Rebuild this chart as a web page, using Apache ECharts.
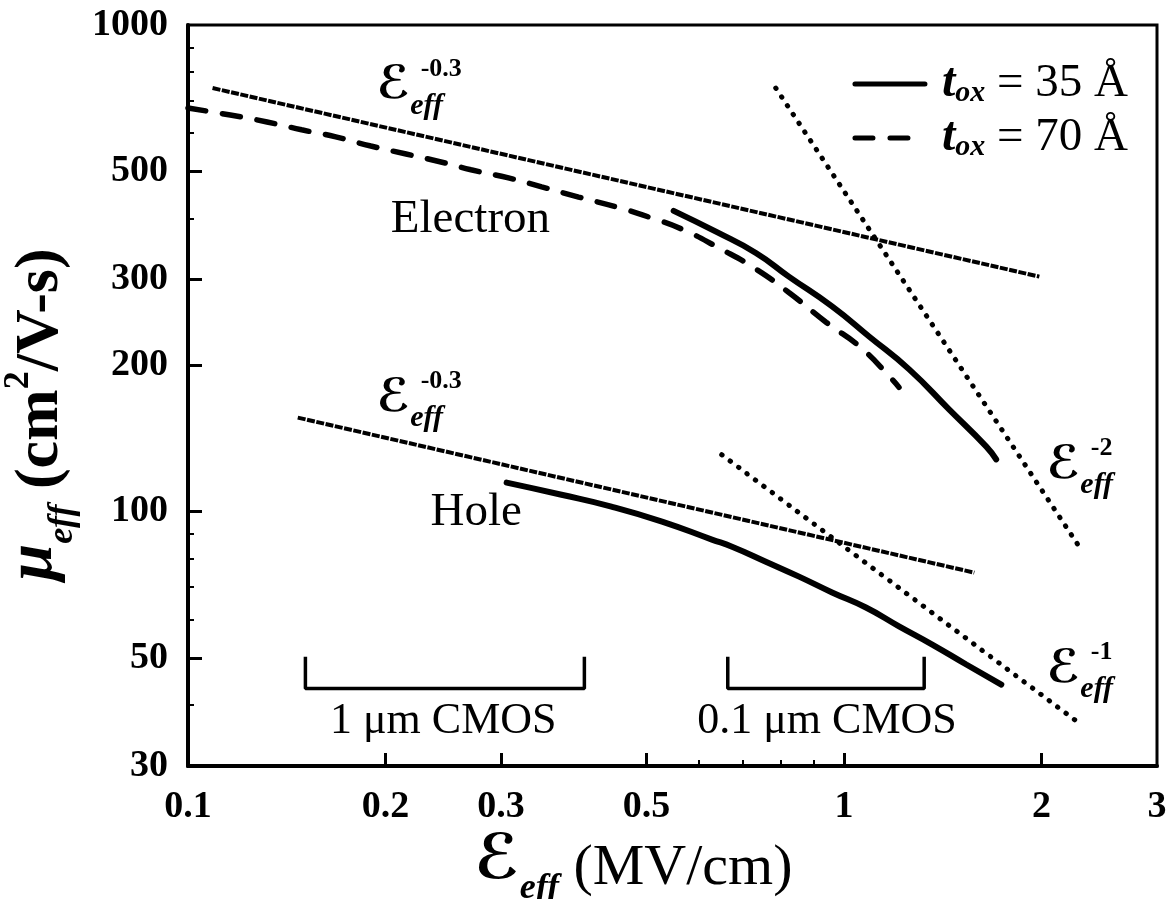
<!DOCTYPE html>
<html>
<head>
<meta charset="utf-8">
<script src="https://cdn.jsdelivr.net/npm/echarts@6/dist/echarts.min.js"></script>
<style>
html,body{margin:0;padding:0;background:#fff;}
#c{width:1167px;height:899px;}
</style>
</head>
<body>
<div id="c"></div>
<script>
// ---------- data ----------
const xTickValues = [0.1, 0.2, 0.3, 0.5, 1, 2, 3];
const xTickLabels = ['0.1', '0.2', '0.3', '0.5', '1', '2', '3'];
const xMajorTicks = [0.2, 0.3, 0.5, 1, 2];
const xMinorTicks = [0.6, 0.7, 0.8, 0.9];
const yTickValues = [30, 50, 100, 200, 300, 500, 1000];
const yTickLabels = ['30', '50', '100', '200', '300', '500', '1000'];
const yMajorTicks = [50, 100, 200, 300, 500];
const yMinorTicks = [40, 60, 70, 80, 90, 400, 600, 700, 800, 900];

// electron, tox = 35 A (solid)
const elec35X = [0.550, 0.638, 0.734, 0.824, 0.959, 1.092, 1.257, 1.447, 1.648, 1.706];
const elec35Y = [415, 376, 340, 304, 264, 229, 196, 162, 136, 128];
// electron, tox = 70 A (dashed)
const elec70X = [0.100, 0.116, 0.132, 0.149, 0.168, 0.190, 0.215, 0.243, 0.270, 0.308, 0.346, 0.394, 0.449, 0.504, 0.570, 0.645, 0.729, 0.824, 0.939, 1.062, 1.184, 1.213];
const elec70Y = [675, 653, 632, 609, 589, 564, 543, 523, 504, 485, 465, 443, 423, 403, 379, 348, 317, 282, 245, 217, 187, 180];
// hole, tox = 35 A (solid)
const hole35X = [0.306, 0.371, 0.442, 0.528, 0.629, 0.675, 0.760, 0.854, 0.959, 1.080, 1.213, 1.363, 1.536, 1.737];
const hole35Y = [114.7, 108.3, 102.4, 95.4, 87.6, 84.7, 78.9, 73.5, 68.2, 63.5, 58.1, 53.3, 48.5, 44.1];

// power-law guide lines
const elecFit03X = [0.109, 1.985];
const elecFit03Y = [742, 304];
const elecFit2X = [0.787, 2.309];
const elecFit2Y = [742, 82.8];
const holeFit03X = [0.147, 1.580];
const holeFit03Y = [156, 74.9];
const holeFit1X = [0.651, 2.261];
const holeFit1Y = [130.9, 37.1];

// CMOS range brackets
const cmos1X = [0.151, 0.151, 0.402, 0.402];
const cmos1Y = [50.3, 43.3, 43.3, 50.3];
const cmos01X = [0.665, 0.665, 1.325, 1.325];
const cmos01Y = [50.3, 43.3, 43.3, 50.3];

// text annotations
const noteTexts = ['Electron', 'Hole', '1 μm CMOS', '0.1 μm CMOS'];
const noteX = [0.2695, 0.275, 0.245, 0.942];
const noteY = [398, 99.5, 37.1, 37.1];
const slopeExps = ['-0.3', '-0.3', '-2', '-1'];
const slopeX = [0.1936, 0.1936, 2.034, 2.034];
const slopeY = [728.6, 165.8, 120.8, 46.0];

const legendNames = ['tox35', 'tox70'];
const legendLabels = ['35 Å', '70 Å'];

// ---------- chart ----------
const SERIF = '"Liberation Serif", "Times New Roman", "DejaVu Serif", serif';
const SCRIPT = '"DejaVu Sans", "DejaVu Serif", sans-serif';
const zip = (xs, ys) => xs.map((x, i) => [x, ys[i]]);
const labelOf = (vals, labels) => v => {
  const i = vals.findIndex(t => Math.abs(t - v) < 1e-9);
  return i >= 0 ? labels[i] : String(v);
};

const lineBase = (name, xs, ys, style, extra) => Object.assign({
  name, type: 'line', data: zip(xs, ys), symbol: 'none', silent: true,
  lineStyle: Object.assign({ color: '#000' }, style), itemStyle: { color: '#000' },
  z: 3
}, extra || {});

const slopeRich = {
  e: { fontFamily: SCRIPT, fontStyle: 'italic', fontWeight: 'bold', fontSize: 46, color: '#000', opacity: 1, lineHeight: 50, verticalAlign: 'top' },
  sub: { fontFamily: SERIF, fontStyle: 'italic', fontWeight: 'bold', fontSize: 30, color: '#000', opacity: 1, lineHeight: 58, verticalAlign: 'bottom' }
};

const textLabel = extra => Object.assign({
  show: true, color: '#000', opacity: 1, textBorderWidth: 0, textShadowBlur: 0
}, extra);

const noteData = noteTexts.map((t, i) => ({
  value: [noteX[i], noteY[i]],
  label: textLabel({ position: 'inside', formatter: t, fontFamily: SERIF, fontSize: i < 2 ? 47 : 44 })
}));
const slopeData = slopeExps.map((s, i) => ({
  value: [slopeX[i], slopeY[i]],
  label: textLabel({ position: 'right', distance: 0, align: 'left', verticalAlign: 'middle',
    formatter: '{e|ℰ}{sub|eff}', rich: slopeRich })
}));
const supData = slopeExps.map((s, i) => ({
  value: [slopeX[i], slopeY[i]],
  label: textLabel({ position: 'right', distance: 0, align: 'left', verticalAlign: 'middle', offset: [44, -23],
    formatter: s, fontFamily: SERIF, fontWeight: 'bold', fontSize: 26 })
}));

const hiddenScatter = (name, data) => ({
  name, type: 'scatter', data, symbolSize: 1, itemStyle: { color: 'rgba(0,0,0,0)' },
  silent: true, z: 5, emphasis: { disabled: true }
});

const option = {
  animation: false,
  backgroundColor: '#fff',
  grid: { left: 188, right: 10, top: 25, bottom: 133, containLabel: false, outerBoundsMode: 'none',
    show: true, borderColor: '#000', borderWidth: 3, backgroundColor: 'transparent' },
  legend: {
    data: legendNames,
    orient: 'vertical',
    right: 34, top: 55,
    itemWidth: 70, itemHeight: 16, itemGap: 6,
    itemStyle: { opacity: 0 },
    lineStyle: { width: 5, color: '#000' },
    formatter: name => '{g|}{t|t}{s|ox}{n| = ' + legendLabels[legendNames.indexOf(name)] + '}',
    textStyle: {
      color: '#000',
      rich: {
        g: { width: 12 },
        t: { fontFamily: SERIF, fontStyle: 'italic', fontWeight: 'bold', fontSize: 48, lineHeight: 48, verticalAlign: 'top' },
        s: { fontFamily: SERIF, fontStyle: 'italic', fontWeight: 'bold', fontSize: 30, lineHeight: 48, verticalAlign: 'bottom' },
        n: { fontFamily: SERIF, fontSize: 47, lineHeight: 48 }
      }
    }
  },
  xAxis: [{
    type: 'log', logBase: 10, min: 0.1, max: 3, position: 'bottom',
    axisLine: { show: true, lineStyle: { color: '#000', width: 4 } },
    axisTick: { show: true, inside: true, length: 13, lineStyle: { color: '#000', width: 3 }, customValues: xMajorTicks },
    axisLabel: { show: true, customValues: xTickValues, formatter: labelOf(xTickValues, xTickLabels), margin: 22,
      fontFamily: SERIF, fontSize: 38, fontWeight: 'bold', color: '#000' },
    splitLine: { show: false }, minorTick: { show: false },
    name: '{e|ℰ}{sub|eff} (MV/cm)', nameLocation: 'middle', nameGap: 54,
    nameTextStyle: { fontFamily: SERIF, fontSize: 58, color: '#000', padding: [0, 78, 0, 0],
      rich: {
        e: { fontFamily: SCRIPT, fontStyle: 'italic', fontWeight: 'bold', fontSize: 62, lineHeight: 70, verticalAlign: 'top' },
        sub: { fontFamily: SERIF, fontStyle: 'italic', fontWeight: 'bold', fontSize: 36, lineHeight: 76, verticalAlign: 'bottom' }
      } }
  }, {
    type: 'log', logBase: 10, min: 0.1, max: 3, position: 'bottom',
    axisLine: { show: false },
    axisTick: { show: true, inside: true, length: 6, lineStyle: { color: '#000', width: 2 }, customValues: xMinorTicks },
    axisLabel: { show: false },
    splitLine: { show: false }
  }],
  yAxis: [{
    type: 'log', logBase: 10, min: 30, max: 1000, position: 'left',
    axisLine: { show: true, lineStyle: { color: '#000', width: 4 } },
    axisTick: { show: true, inside: true, length: 14, lineStyle: { color: '#000', width: 3 }, customValues: yMajorTicks },
    axisLabel: { show: true, customValues: yTickValues, formatter: labelOf(yTickValues, yTickLabels), margin: 20,
      fontFamily: SERIF, fontSize: 38, fontWeight: 'bold', color: '#000' },
    splitLine: { show: false }, minorTick: { show: false },
    name: '{mu|μ}{sub|eff} (cm{sup|2}/V-s)', nameLocation: 'middle', nameGap: 106,
    nameTextStyle: { fontFamily: SERIF, fontSize: 62, fontWeight: 'bold', color: '#000', padding: [0, 38, 0, 0],
      rich: {
        mu: { fontFamily: SERIF, fontStyle: 'italic', fontWeight: 'bold', fontSize: 66, lineHeight: 78, verticalAlign: 'top' },
        sub: { fontFamily: SERIF, fontStyle: 'italic', fontWeight: 'bold', fontSize: 36, lineHeight: 80, verticalAlign: 'bottom' },
        sup: { fontFamily: SERIF, fontWeight: 'bold', fontSize: 36, lineHeight: 80, verticalAlign: 'top' }
      } }
  }, {
    type: 'log', logBase: 10, min: 30, max: 1000, position: 'left',
    axisLine: { show: false },
    axisTick: { show: true, inside: true, length: 6, lineStyle: { color: '#000', width: 2 }, customValues: yMinorTicks },
    axisLabel: { show: false },
    splitLine: { show: false }
  }],
  series: [
    lineBase('elecFit03', elecFit03X, elecFit03Y, { width: 4, type: [8, 1.5] }),
    lineBase('elecFit2', elecFit2X, elecFit2Y, { width: 5, type: [0.5, 10], cap: 'round' }),
    lineBase('holeFit03', holeFit03X, holeFit03Y, { width: 4, type: [8, 1.5] }),
    lineBase('holeFit1', holeFit1X, holeFit1Y, { width: 5, type: [0.5, 10], cap: 'round' }),
    lineBase('tox70', elec70X, elec70Y, { width: 5.5, type: [18, 17], cap: 'round' }, { smooth: 0.5 }),
    lineBase('tox35', elec35X, elec35Y, { width: 6, cap: 'round' }, { smooth: 0.5 }),
    lineBase('hole35', hole35X, hole35Y, { width: 6, cap: 'round' }, { smooth: 0.5 }),
    lineBase('cmos1', cmos1X, cmos1Y, { width: 3.5 }),
    lineBase('cmos01', cmos01X, cmos01Y, { width: 3.5 }),
    hiddenScatter('notes', noteData),
    hiddenScatter('slopes', slopeData),
    hiddenScatter('slopeExp', supData)
  ]
};

const chart = echarts.init(document.getElementById('c'), null, { renderer: 'canvas' });
chart.setOption(option);
</script>
</body>
</html>
